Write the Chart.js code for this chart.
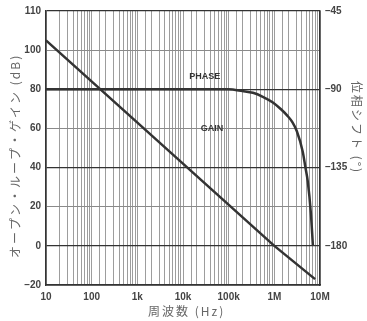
<!DOCTYPE html>
<html>
<head>
<meta charset="utf-8">
<script src="https://cdn.jsdelivr.net/npm/chart.js@4"></script>
<style>
  body { margin: 0; background: #fff; }
  canvas { display: block; }
</style>
</head>
<body>
<canvas id="bodeChart" width="367" height="321"></canvas>
<script>
// open loop gain (dB) vs frequency (Hz)
const gainFreq = [10, 1000000, 7800000];
const gainDb = [105, 0, -17];

// phase shift (deg) vs frequency (Hz)
const phaseFreq = [10, 100000, 200000, 340000, 560000, 930000, 1400000, 1900000, 2500000, 3100000, 4200000, 4800000, 5400000, 6300000, 7000000];
const phaseDeg = [-90, -90, -91, -92, -94.3, -97.6, -101.5, -105, -109, -114, -126, -135, -143, -161, -180];

// tick labels
const freqLabels = ['10', '100', '1k', '10k', '100k', '1M', '10M'];
const gainLabels = ['\u201320', '0', '20', '40', '60', '80', '100', '110'];
const phaseTicks = [-180, -135, -90, -45];

const tickFont = { family: "'Liberation Sans', Arial, sans-serif", size: 10, weight: 'bold' };
const jpFamily = "'Noto Sans CJK JP', sans-serif";

const toPoints = (xs, ys) => xs.map((x, i) => ({ x: x, y: ys[i] }));

// draws text centred on (x, y), rotated by angle
function rotatedText(ctx, text, x, y, angle) {
  ctx.save();
  ctx.translate(x, y);
  ctx.rotate(angle);
  ctx.fillText(text, 0, 0);
  ctx.restore();
}

// curve labels and axis titles
const chartText = {
  id: 'chartText',
  afterDatasetsDraw(chart) {
    const ctx = chart.ctx;
    const x = chart.scales.x, y = chart.scales.y, y1 = chart.scales.y1;
    const area = chart.chartArea;
    ctx.save();
    ctx.fillStyle = '#333';
    ctx.font = "bold 9px 'Liberation Sans', Arial, sans-serif";
    ctx.textAlign = 'center';
    ctx.textBaseline = 'middle';
    ctx.fillText('PHASE', x.getPixelForValue(30000), y.getPixelForValue(86.5));
    ctx.fillText('GAIN', x.getPixelForValue(43000), y.getPixelForValue(60));

    ctx.fillStyle = '#666';
    ctx.font = '12px ' + jpFamily;
    ctx.letterSpacing = '2px';
    rotatedText(ctx, 'オープン・ループ・ゲイン (dB)', 15, y.getPixelForValue(46), -Math.PI / 2);
    rotatedText(ctx, '位相シフト (°)', 357, y1.getPixelForValue(-112), Math.PI / 2);
    rotatedText(ctx, '周波数 (Hz)', x.getPixelForValue(12000), area.bottom + 26, 0);
    ctx.restore();
  }
};

const config = {
  type: 'line',
  data: {
    datasets: [
      {
        label: 'GAIN',
        data: toPoints(gainFreq, gainDb),
        borderColor: '#333',
        borderWidth: 2.5,
        pointRadius: 0,
        yAxisID: 'y',
      },
      {
        label: 'PHASE',
        data: toPoints(phaseFreq, phaseDeg),
        borderColor: '#333',
        borderWidth: 2.5,
        pointRadius: 0,
        cubicInterpolationMode: 'monotone',
        yAxisID: 'y1',
      },
    ],
  },
  options: {
    responsive: false,
    animation: false,
    layout: { padding: { left: 0, right: 0, top: 10, bottom: 0 } },
    plugins: {
      legend: { display: false },
      tooltip: { enabled: false },
    },
    scales: {
      x: {
        type: 'logarithmic',
        min: 10,
        max: 10000000,
        afterFit: (scale) => { scale.height = 36; },
        grid: { color: '#9d9d9d', lineWidth: 1, drawTicks: false },
        border: { display: true, color: '#333', width: 1.5 },
        ticks: {
          autoSkip: false,
          maxRotation: 0,
          padding: 6,
          color: '#444',
          font: tickFont,
          callback: function (value) {
            const d = Math.log10(value);
            if (Math.abs(d - Math.round(d)) > 1e-6) return '';
            return freqLabels[Math.round(d) - 1];
          },
        },
      },
      y: {
        type: 'linear',
        position: 'left',
        min: -20,
        max: 120,
        afterFit: (scale) => { scale.width = 46; },
        grid: {
          drawTicks: false,
          color: (c) => ([120, 80, 40, 0].includes(c.tick.value) ? '#333' : '#8a8a8a'),
          lineWidth: (c) => ([120, 80, 40, 0].includes(c.tick.value) ? 1.2 : 1),
        },
        border: { display: true, color: '#333', width: 1.5 },
        ticks: {
          stepSize: 20,
          padding: 5,
          color: '#444',
          font: tickFont,
          callback: (value, i) => gainLabels[i],
        },
      },
      y1: {
        type: 'linear',
        position: 'right',
        min: -202.5,
        max: -45,
        afterBuildTicks: (scale) => { scale.ticks = phaseTicks.map((v) => ({ value: v })); },
        afterFit: (scale) => { scale.width = 47; },
        grid: { display: false, drawOnChartArea: false, drawTicks: false },
        border: { display: true, color: '#333', width: 1.5 },
        ticks: {
          padding: 5,
          color: '#444',
          font: tickFont,
          callback: (value) => String(value).replace('-', '\u2013'),
        },
      },
    },
  },
  plugins: [chartText],
};

const ctx = document.getElementById('bodeChart').getContext('2d');
const bodeChart = new Chart(ctx, config);
</script>
</body>
</html>
